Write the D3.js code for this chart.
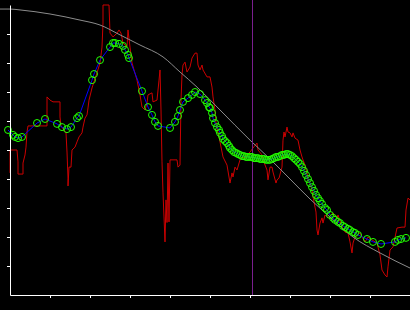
<!DOCTYPE html>
<html>
<head>
<meta charset="utf-8">
<script src="https://cdn.jsdelivr.net/npm/d3@7"></script>
<style>
  body { margin: 0; background: #000; }
  svg { display: block; }
</style>
</head>
<body>
<script>
// raw signal (red step line)
const rawX = [0,0,1.75,2,2,3.25,3.25,3.75,4,4.25,4.5,9.25,9.25,10,10.75,12.5,12.5,12.75,14,14.25,14.5,14.5,14.75,15.25,15.5,16.25,16.75,17.25,18,18.25,18.75,19.25,19.5,19.75,20.5,21.75,22.5,23,23.25,23.25,24.75,25,25.75,26.75,27.25,27.75,28.25,29.25,29.5,30,30.5,31.75,32.5,33,33.75,34.25,34.5,35.5,35.75,36.75,37.25,37.5,37.75,38,38.25,38.5,38.75,39,39.25,39.5,39.75,40,41.75,42,42.5,42.75,43,43.25,43.75,44.25,45,45.5,46.25,46.75,47,47.5,48,48.25,49.25,50,50.5,50.75,51.25,51.5,52.5,53.25,54.25,55,55.5,55.75,56.25,56.75,57.5,58,58.75,59.25,60,60.75,61.75,62,63,63.25,64.25,64.5,65,65.5,65.75,66.5,66.75,67.25,68,68.25,68.5,68.75,69.25,69.5,70,70.5,70.75,71.25,72,72.5,73,73.25,73.75,74.25,74.5,75,75.5,75.75,76.25,76.5,76.75,77,77.5,78,78.25,78.75,79.5,80.75,81.75,82,83,83.75,84.5,85,85.5,85.75,86.25,86.75,87.5,88,88.75,89.5,90.5,91.75,92.5,93,93.75,94.25,94.5,95,95.75,96.75,98,98.75,99,99.5,100];
const rawY = [4.21,5.00,5.00,4.59,4.17,4.17,4.55,4.83,5.10,5.62,5.83,5.83,6.83,6.72,6.66,6.66,6.14,5.83,5.59,4.93,4.03,3.76,4.41,4.41,5.00,5.10,5.28,5.45,5.59,5.79,6.10,6.21,6.45,6.72,7.14,7.66,8.00,8.55,9.38,10.0,10.0,9.03,8.90,9.03,9.14,9.03,8.69,8.55,9.14,8.55,8.00,7.41,6.90,6.48,6.38,6.62,6.90,6.97,6.66,6.72,7.41,7.76,6.38,4.59,3.52,2.69,1.83,3.28,2.50,4.55,2.52,4.66,4.66,4.41,4.48,6.72,7.59,7.93,8.03,7.69,7.86,8.17,8.34,8.34,7.93,7.76,7.93,7.76,7.52,7.52,7.17,6.83,6.38,5.93,5.28,4.76,4.48,3.86,4.21,4.07,4.41,4.31,4.66,4.76,4.72,4.83,4.93,5.07,5.24,5.00,4.83,4.66,4.31,3.97,4.41,4.41,4.24,3.86,3.97,4.03,4.41,5.34,5.62,5.45,5.79,5.62,5.59,5.45,5.59,5.41,5.34,5.00,4.76,4.66,4.48,4.21,3.97,3.86,3.62,3.38,3.03,2.86,2.24,2.07,2.48,2.66,2.48,2.76,2.66,2.83,2.66,2.76,2.34,2.17,2.14,1.83,1.45,1.79,2.00,2.07,2.14,2.00,1.83,2.00,1.90,1.79,1.38,0.86,0.69,0.62,0.97,1.55,1.66,2.31,2.34,2.34,2.93,3.34,3.28];

// fitted points (green circles joined by blue line)
const fitX = [-0.5,0.75,1.25,2,3,6.75,8.75,11.75,13,14.25,15.25,16.75,17.25,20.5,21,22.5,25,25.75,26.25,27.25,28.25,28.75,29.5,29.75,33,34.5,35.5,36.25,37,40,41.25,42,42.5,43.25,44.5,45.5,46.25,47.5,48.75,49.25,49.75,50,50.5,50.75,51.25,51.75,52.25,52.5,53,53.25,53.75,54.25,54.75,55,55.5,56,56.5,57,57.5,58,58.5,59,59.5,60,60.5,61,61.5,62,62.5,63,63.5,64,64.5,65,65.5,66,66.5,67,67.5,68,68.5,69,69.5,70,70.5,71,71.5,72,72.5,73,73.5,74,74.5,75,75.5,76,76.5,77,77.5,78,78.75,79.25,80,80.75,81.25,82,82.5,83.25,83.75,84.5,85,85.75,86.25,87,89.25,90.75,92.75,96.25,97,97.75,99];
const fitY = [5.69,5.52,5.45,5.41,5.45,5.93,6.07,5.90,5.79,5.72,5.79,6.10,6.17,7.41,7.62,8.10,8.55,8.69,8.69,8.66,8.59,8.45,8.28,8.17,7.03,6.48,6.21,5.97,5.83,5.76,5.97,6.17,6.38,6.66,6.79,6.90,7.00,6.93,6.72,6.62,6.48,6.45,6.28,6.10,5.93,5.79,5.69,5.59,5.48,5.38,5.31,5.24,5.14,5.07,5.00,4.93,4.90,4.86,4.83,4.79,4.79,4.76,4.76,4.76,4.76,4.72,4.72,4.72,4.69,4.69,4.69,4.66,4.66,4.66,4.69,4.72,4.76,4.76,4.79,4.83,4.83,4.86,4.86,4.83,4.79,4.72,4.66,4.59,4.52,4.41,4.28,4.14,4.00,3.86,3.72,3.59,3.45,3.34,3.24,3.14,3.00,2.93,2.76,2.66,2.59,2.52,2.48,2.38,2.34,2.28,2.24,2.17,2.14,2.07,1.93,1.83,1.76,1.83,1.90,1.93,1.97];

// reference envelope (gray curve)
const envX = [-2.5,0,2.5,10,17.5,22.5,27.5,32.5,38.25,42.5,46.75,52.5,60,65,70,75,80,85.75,92.5,100];
const envY = [9.86,9.86,9.83,9.69,9.48,9.31,8.97,8.62,8.21,7.69,7.17,6.38,5.34,4.69,4.00,3.31,2.69,2.00,1.45,0.93];

// marker position (purple vertical line)
const markerX = 60.5;

// tick values
const xTicks = [10,20,30,40,50,60,70,80,90];
const yTicks = [1,2,3,4,5,6,7,8,9];

const width = 410;
const height = 310;

const svg = d3.select('body')
    .append('svg')
    .attr('width', width)
    .attr('height', height)
    .style('background', '#000');

const x = d3.scaleLinear().domain([0, 100]).range([10, 410]);
const y = d3.scaleLinear().domain([0, 10]).range([295, 5]);

const raw = rawX.map((v, i) => [v, rawY[i]]);
const fit = fitX.map((v, i) => [v, fitY[i]]);
const env = envX.map((v, i) => [v, envY[i]]);

const line = d3.line().x(d => x(d[0])).y(d => y(d[1]));

// red raw signal
svg.append('path')
    .attr('d', line(raw))
    .attr('fill', 'none')
    .attr('stroke', '#cc0000')
    .attr('stroke-width', 1);

// gray envelope
svg.append('path')
    .attr('d', line.curve(d3.curveMonotoneX)(env))
    .attr('fill', 'none')
    .attr('stroke', '#8c8c8c')
    .attr('stroke-width', 1);
line.curve(d3.curveLinear);

// vertical marker
svg.append('line')
    .attr('x1', Math.round(x(markerX)) + 0.5)
    .attr('x2', Math.round(x(markerX)) + 0.5)
    .attr('y1', 0)
    .attr('y2', y(0))
    .attr('stroke', '#7a1f8f')
    .attr('stroke-width', 1);

// blue line joining fitted points
svg.append('path')
    .attr('d', line(fit))
    .attr('fill', 'none')
    .attr('stroke', '#0000ff')
    .attr('stroke-width', 1);

// green open circles
svg.append('g')
    .selectAll('circle')
    .data(fit)
    .enter()
    .append('circle')
    .attr('cx', d => x(d[0]))
    .attr('cy', d => y(d[1]))
    .attr('r', 3.5)
    .attr('fill', 'none')
    .attr('stroke', '#22ff00')
    .attr('stroke-width', 1);

// axes
const xAxis = svg.append('g')
    .attr('transform', `translate(0,${y(0)})`)
    .call(d3.axisBottom(x).tickValues(xTicks).tickSize(3).tickSizeOuter(0).tickFormat(''));
const yAxis = svg.append('g')
    .attr('transform', `translate(${x(0)},0)`)
    .call(d3.axisLeft(y).tickValues(yTicks).tickSize(3).tickSizeOuter(0).tickFormat(''));

[xAxis, yAxis].forEach(a => {
    a.select('.domain').attr('stroke', '#fff');
    a.selectAll('.tick line').attr('stroke', '#fff');
});
</script>
</body>
</html>
